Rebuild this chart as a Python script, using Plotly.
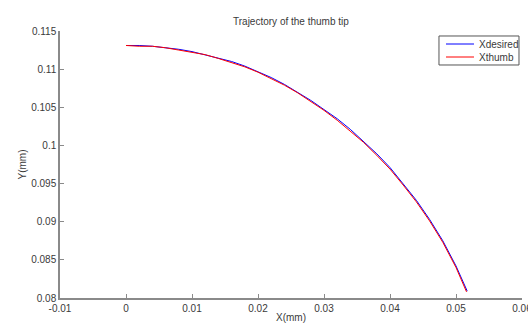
import plotly.graph_objects as go

# Thumb-tip trajectory samples (metres, labelled mm on the axes)
x_desired = [0.0, 0.002, 0.004, 0.006, 0.008, 0.010, 0.012, 0.014, 0.016, 0.018,
             0.020, 0.022, 0.024, 0.026, 0.028, 0.030, 0.032, 0.034, 0.036, 0.038,
             0.040, 0.042, 0.044, 0.046, 0.048, 0.050, 0.0517]
y_desired = [0.1131, 0.1131, 0.1130, 0.1128, 0.1126, 0.1123, 0.1119, 0.1115, 0.1110, 0.1104,
             0.1097, 0.1089, 0.1080, 0.1070, 0.1059, 0.1047, 0.1035, 0.1021, 0.1005, 0.0989,
             0.0971, 0.0950, 0.0928, 0.0903, 0.0875, 0.0842, 0.0809]

x_thumb = [0.0, 0.002, 0.004, 0.006, 0.008, 0.010, 0.012, 0.014, 0.016, 0.018,
           0.020, 0.022, 0.024, 0.026, 0.028, 0.030, 0.032, 0.034, 0.036, 0.038,
           0.040, 0.042, 0.044, 0.046, 0.048, 0.050, 0.0516]
y_thumb = [0.1131, 0.1130, 0.1130, 0.1128, 0.1125, 0.1122, 0.1119, 0.1114, 0.1109, 0.1103,
           0.1096, 0.1088, 0.1079, 0.1069, 0.1058, 0.1046, 0.1033, 0.1019, 0.1004, 0.0987,
           0.0969, 0.0948, 0.0926, 0.0901, 0.0873, 0.0840, 0.0808]

series_names = ["Xdesired", "Xthumb"]
series_colors = ["#0000ff", "#ff0000"]

x_ticks = [-0.01, 0, 0.01, 0.02, 0.03, 0.04, 0.05, 0.06]
x_ticklabels = ["-0.01", "0", "0.01", "0.02", "0.03", "0.04", "0.05", "0.06"]
y_ticks = [0.08, 0.085, 0.09, 0.095, 0.1, 0.105, 0.11, 0.115]
y_ticklabels = ["0.08", "0.085", "0.09", "0.095", "0.1", "0.105", "0.11", "0.115"]

FONT = "Liberation Sans, Arial, sans-serif"
TEXT = "#3a3a3a"
AXIS = "#8a8a8a"

fig = go.Figure()
for xs, ys, name, color in zip([x_desired, x_thumb], [y_desired, y_thumb],
                               series_names, series_colors):
    fig.add_trace(go.Scatter(x=xs, y=ys, mode="lines", name=name,
                             line=dict(color=color, width=1), showlegend=False))

axis_common = dict(
    showgrid=False, zeroline=False, showline=True, linecolor=AXIS, linewidth=1.5,
    mirror=False, ticks="inside", ticklen=4, tickcolor=AXIS, automargin=False,
    tickfont=dict(family=FONT, size=10, color=TEXT),
    title_font=dict(family=FONT, size=10, color=TEXT),
)

# Compact boxed legend in the upper-right corner (paper coordinates)
box = dict(x0=0.8203, x1=0.9935, y0=0.8727, y1=0.9813)
fig.add_shape(type="rect", xref="paper", yref="paper", line=dict(color="#555555", width=1),
              fillcolor="white", **box)
row_y = [0.9513, 0.9026]
for yy, name, color in zip(row_y, series_names, series_colors):
    fig.add_shape(type="line", xref="paper", yref="paper", x0=0.8355, x1=0.8961,
                  y0=yy, y1=yy, line=dict(color=color, width=1))
    fig.add_annotation(xref="paper", yref="paper", x=0.9026, y=yy, text=name,
                       showarrow=False, xanchor="left", yanchor="middle",
                       font=dict(family=FONT, size=10, color=TEXT))

fig.update_layout(
    width=528, height=324,
    margin=dict(l=60, r=6, t=31, b=26),
    paper_bgcolor="white", plot_bgcolor="white",
    title=dict(text="Trajectory of the thumb tip", x=0.551, xanchor="center",
               y=0.935, yanchor="middle",
               font=dict(family=FONT, size=10, color=TEXT)),
    xaxis=dict(range=[-0.01, 0.06], tickvals=x_ticks, ticktext=x_ticklabels,
               ticklabeloverflow="allow", ticklabelstandoff=0,
               title=dict(text="X(mm)", standoff=1), **axis_common),
    yaxis=dict(range=[0.08, 0.115], tickvals=y_ticks, ticktext=y_ticklabels,
               title=dict(text="Y(mm)", standoff=3), **axis_common),
    showlegend=False,
)

fig.write_html("out.html")
